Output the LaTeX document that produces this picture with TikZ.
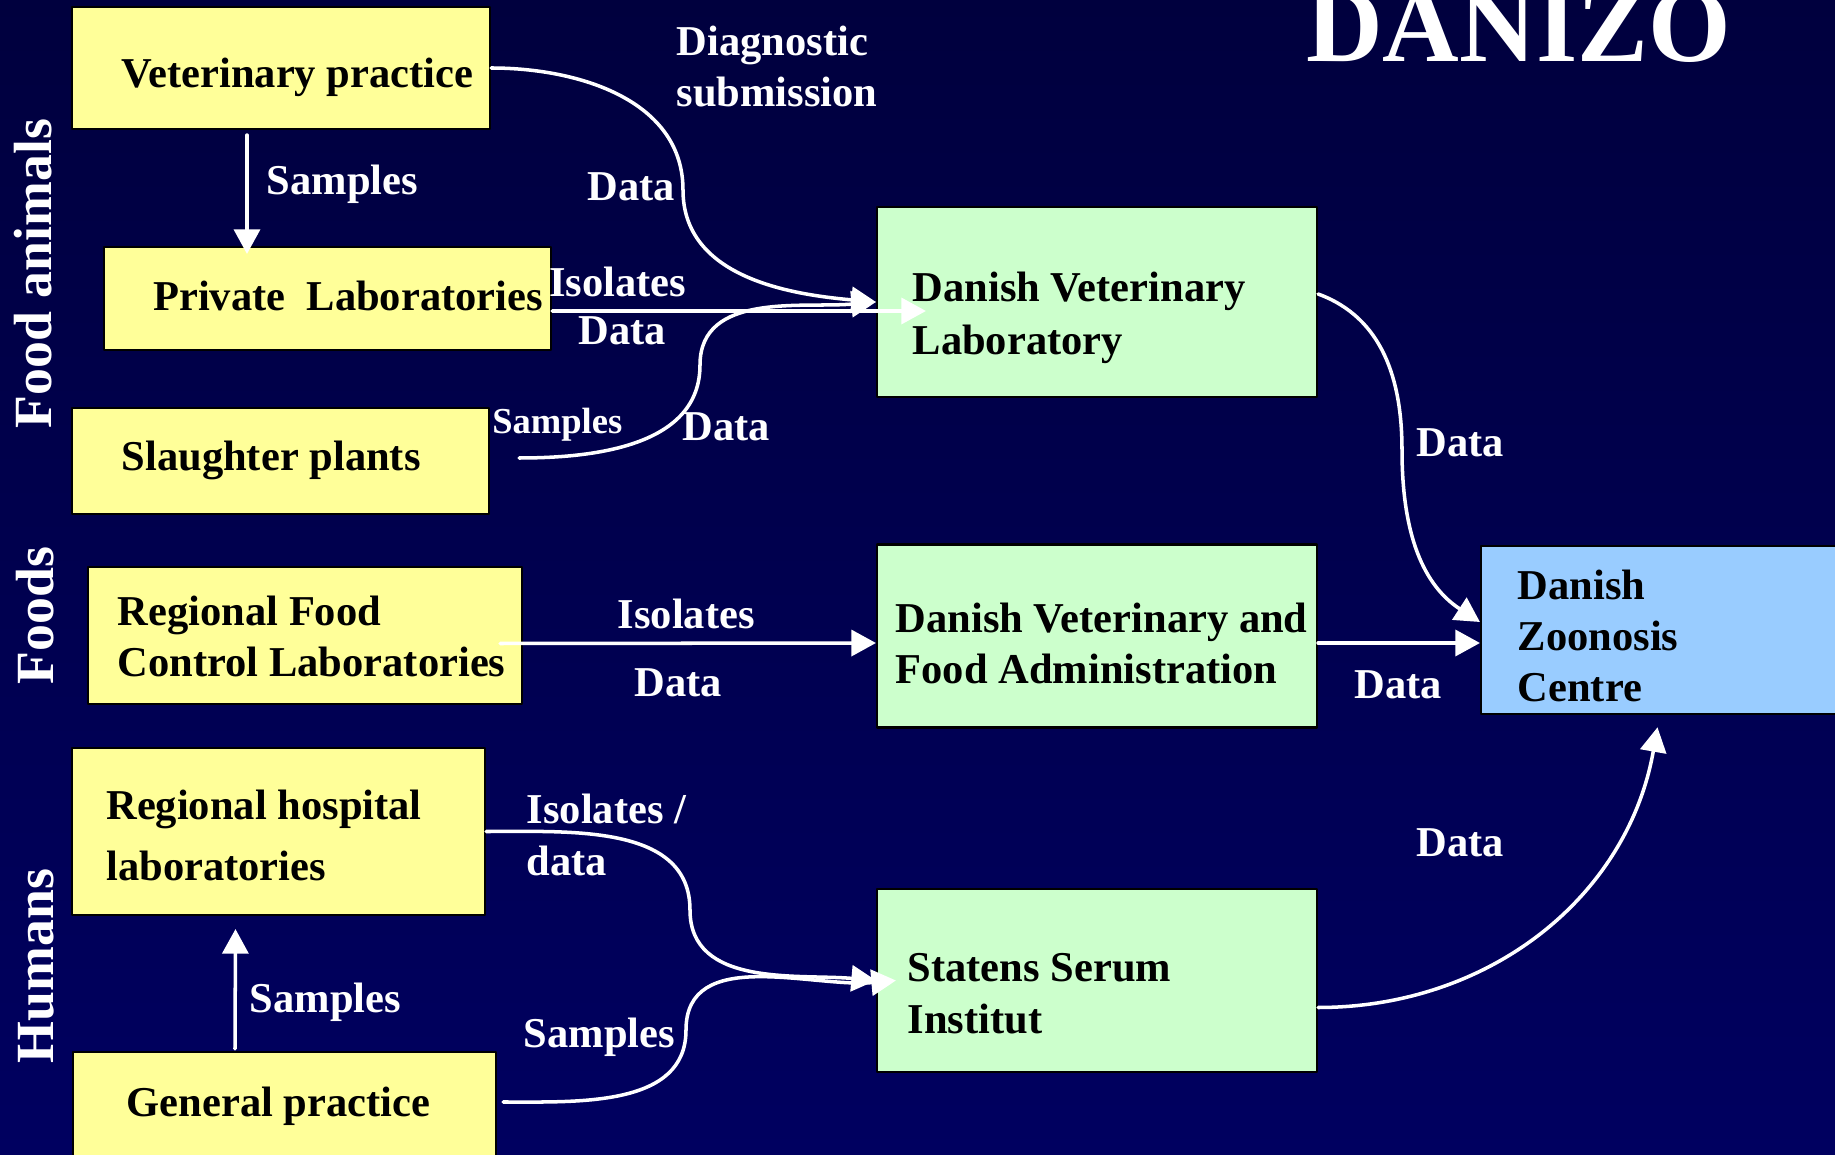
\documentclass[tikz,border=0pt]{standalone}
\usepackage{fontspec}
\setmainfont{Liberation Serif}
\usetikzlibrary{arrows.meta}
\definecolor{bgtop}{RGB}{0,0,62}
\definecolor{bgbot}{RGB}{0,0,96}
\definecolor{boxyellow}{RGB}{255,255,153}
\definecolor{boxgreen}{RGB}{204,255,204}
\definecolor{boxblue}{RGB}{153,204,255}
\begin{document}
\begin{tikzpicture}[line cap=round,line join=round,>={Triangle[length=7pt,width=7.4pt]},x=1.0cm,y=1.0cm,
	yellowbox/.style={draw=black,line width=0.6pt,fill=boxyellow,inner sep=0pt},
	greenbox/.style={yellowbox,fill=boxgreen},
	bluebox/.style={yellowbox,fill=boxblue},
	boxtext/.style={anchor=base west,inner sep=0pt,align=left,font=\fontsize{12.1}{14.6}\selectfont\bfseries},
	flowtext/.style={boxtext,text=white},
	side/.style={anchor=base,inner sep=0pt,rotate=90,text=white,font=\fontsize{15.3}{18}\selectfont\bfseries},
	flow/.style={draw=white,line width=1pt,->}]
		\clip(0,0) rectangle (18.35,-11.55);
		\shade[top color=bgtop,bottom color=bgbot] (0,0) rectangle (18.35,-11.55);
		% sources
		\node[yellowbox,minimum width=4.18cm,minimum height=1.22cm] (vetprac) at (2.81,-0.68) {};
		\node[yellowbox,minimum width=4.47cm,minimum height=1.03cm] (privlab) at (3.275,-2.985) {};
		\node[yellowbox,minimum width=4.17cm,minimum height=1.06cm] (slaughter) at (2.805,-4.61) {};
		\node[yellowbox,minimum width=4.34cm,minimum height=1.37cm] (regfood) at (3.05,-6.355) {};
		\node[yellowbox,minimum width=4.13cm,minimum height=1.67cm] (hosp) at (2.785,-8.315) {};
		\node[yellowbox,minimum width=4.23cm,minimum height=1.23cm] (gp) at (2.845,-11.135) {};
		% institutes
		\node[greenbox,minimum width=4.40cm,minimum height=1.90cm] (dvl) at (10.97,-3.02) {};
		\node[greenbox,minimum width=4.40cm,minimum height=1.83cm] (dvfa) at (10.97,-6.36) {};
		\node[greenbox,minimum width=4.40cm,minimum height=1.83cm] (ssi) at (10.97,-9.805) {};
		\node[bluebox,minimum width=3.69cm,minimum height=1.685cm] (dzc) at (16.655,-6.30) {};
		% box texts (base = last line)
		\node[boxtext] (vetprac-txt) at (1.21,-0.875) {Veterinary practice};
		\node[boxtext] (privlab-txt) at (1.525,-3.105) {Private~~Laboratories};
		\node[boxtext] (slaughter-txt) at (1.21,-4.71) {Slaughter plants};
		\node[boxtext] (regfood-txt) at (1.17,-6.77) {Regional Food\\Control Laboratories};
		\node[boxtext] (hosp-txt) at (1.056,-8.81) {Regional hospital\\[2.8pt]laboratories};
		\node[boxtext] (gp-txt) at (1.26,-11.165) {General practice};
		\node[boxtext] (dvl-txt) at (9.12,-3.55) {Danish Veterinary\\[0.5pt]Laboratory};
		\node[boxtext] (dvfa-txt) at (8.95,-6.84) {Danish Veterinary and\\Food Administration};
		\node[boxtext] (ssi-txt) at (9.07,-10.33) {Statens Serum\\Institut};
		\node[boxtext] (dzc-txt) at (15.17,-7.02) {Danish\\Zoonosis\\Centre};
		% side labels and title
		\node[side] (food-animals) at (0.515,-2.735) {Food animals};
		\node[side] (foods) at (0.533,-6.155) {Foods};
		\node[side] (humans) at (0.533,-9.66) {Humans};
		\node[anchor=base west,inner sep=0pt,text=white,font=\fontsize{30.2}{36}\selectfont\bfseries] (title) at (13.055,-0.614) {DANIZO};
		% bends
		\coordinate (vetbend) at (6.83,-1.90);
		\coordinate (slbend) at (7.00,-3.65);
		\coordinate (dvlbend) at (14.02,-4.50);
		\coordinate (hospbend) at (6.90,-9.10);
		\coordinate (gpbend) at (6.86,-10.30);
		% flows
		\draw[flow] ([xshift=-0.34cm,yshift=-0.05cm]vetprac.south) -- ([xshift=-0.805cm,yshift=-0.08cm]privlab.north);
		\draw[flow] (vetprac.east) to[out=0,in=90] (vetbend) to[out=-90,in=175] (dvl.west);
		\draw[flow] ([xshift=0.29cm,yshift=0.03cm]slaughter.east) to[out=0,in=-90] (slbend) to[out=90,in=185] (dvl.west);
		\draw[flow] ([yshift=-0.125cm]privlab.east) -- ([xshift=0.5cm,yshift=-0.09cm]dvl.west);
		\draw[flow] ([xshift=-0.23cm,yshift=-0.08cm]regfood.east) -- ([yshift=-0.07cm]dvfa.west);
		\draw[flow] ([yshift=-0.07cm]dvfa.east) -- ([yshift=-0.13cm]dzc.west);
		\draw[flow] ([yshift=0.08cm]dvl.east) to[out=-20,in=90] (dvlbend) to[out=-90,in=147] ([yshift=0.08cm]dzc.west);
		\draw[flow] (hosp.east) to[out=0,in=90] (hospbend) to[out=-90,in=175] (ssi.west);
		\draw[flow] ([xshift=0.06cm,yshift=0.115cm]gp.east) to[out=0,in=-90] (gpbend) to[out=90,in=185] ([xshift=0.2cm]ssi.west);
		\draw[flow] ([xshift=-0.495cm,yshift=0.02cm]gp.north) -- ([xshift=-0.43cm,yshift=-0.13cm]hosp.south);
		\draw[flow] ([yshift=-0.27cm]ssi.east) to[out=0,in=-100] ([xshift=-0.08cm,yshift=-0.12cm]dzc.south);
		% flow labels
		\node[flowtext] (samples-vet) at (2.66,-1.946) {Samples};
		\node[flowtext] (diag) at (6.76,-1.07) {Diagnostic\\submission};
		\node[flowtext] (data-vet) at (5.87,-2.01) {Data};
		\node[flowtext] (isolates-priv) at (5.486,-2.97) {Isolates};
		\node[flowtext] (data-priv) at (5.78,-3.445) {Data};
		\node[flowtext,font=\fontsize{10.4}{12}\selectfont\bfseries] (samples-sl) at (4.916,-4.34) {Samples};
		\node[flowtext] (data-sl) at (6.82,-4.41) {Data};
		\node[flowtext] (data-dvl) at (14.16,-4.57) {Data};
		\node[flowtext] (isolates-food) at (6.17,-6.29) {Isolates};
		\node[flowtext] (data-food) at (6.34,-6.97) {Data};
		\node[flowtext] (data-dvfa) at (13.54,-6.99) {Data};
		\node[flowtext] (isolates-hosp) at (5.26,-8.75) {Isolates /\\data};
		\node[flowtext] (samples-gp) at (2.49,-10.126) {Samples};
		\node[flowtext] (samples-ssi) at (5.23,-10.48) {Samples};
		\node[flowtext] (data-ssi) at (14.16,-8.57) {Data};
	\end{tikzpicture}
\end{document}
